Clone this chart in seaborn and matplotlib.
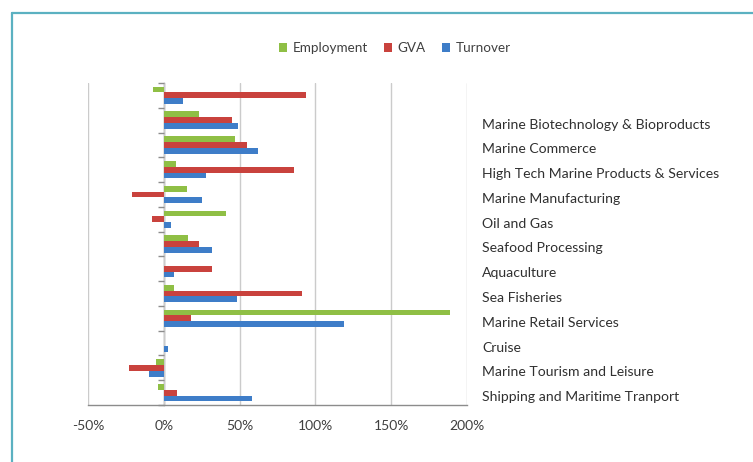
import numpy as np
import pandas as pd
import seaborn as sns
import matplotlib.pyplot as plt
import matplotlib.transforms as mtransforms
from matplotlib.patches import Patch
from matplotlib.lines import Line2D
from matplotlib.ticker import FixedLocator, FuncFormatter

# Sectors, top to bottom (the first group carries no label)
categories = [
    "",
    "Marine Biotechnology & Bioproducts",
    "Marine Commerce",
    "High Tech Marine Products & Services",
    "Marine Manufacturing",
    "Oil and Gas",
    "Seafood Processing",
    "Aquaculture",
    "Sea Fisheries",
    "Marine Retail Services",
    "Cruise",
    "Marine Tourism and Leisure",
    "Shipping and Maritime Tranport",
]
measures = ["Employment", "GVA", "Turnover"]

# Percentage change per sector
employment = [-7, 23, 47, 8, 15, 41, 16, 0, 7, 189, 0, -5, -4]
gva = [94, 45, 55, 86, -21, -8, 23, 31.5, 91, 18, 0, -23, 8.5]
turnover = [12.5, 49, 62, 28, 25.5, 5, 32, 6.5, 48, 119, 3, -10, 58]

x_ticks = [-50, 0, 50, 100, 150, 200]
colors = ["#8FBF45", "#C9423D", "#3E7DC8"]

df = pd.DataFrame({
    "Sector": categories * 3,
    "Measure": np.repeat(measures, len(categories)),
    "Change": employment + gva + turnover,
})

sns.set_theme(style="white")
plt.rcParams["font.family"] = ["Lato", "DejaVu Sans"]

fig = plt.figure(figsize=(7.53, 4.62), dpi=100)
fig.patch.set_facecolor("white")
W, H = 753, 462
ax = fig.add_axes([88 / W, 1 - 405 / H, (467 - 88) / W, (405 - 83) / H])

sns.barplot(
    data=df, y="Sector", x="Change", hue="Measure",
    order=categories, hue_order=measures, palette=colors,
    orient="h", width=0.7, saturation=1, legend=False, linewidth=0, ax=ax,
)

ax.set_xlim(-50, 200)
ax.set_ylim(len(categories) - 0.5, -0.5)
ax.set_xlabel("")
ax.set_ylabel("")

# vertical gridlines
ax.set_xticks(x_ticks)
ax.xaxis.set_major_formatter(FuncFormatter(lambda v, p: f"{v:.0f}%"))
ax.grid(axis="x", color="#CBCBCB", lw=1)
ax.grid(axis="y", visible=False)
ax.set_axisbelow(True)

for s in ["top", "right"]:
    ax.spines[s].set_visible(False)
ax.spines["bottom"].set_color("#8C8C8C")
ax.spines["bottom"].set_linewidth(1)
ax.spines["left"].set_position(("data", 0))
ax.spines["left"].set_color("#8C8C8C")
ax.spines["left"].set_linewidth(1)
ax.spines["left"].set_zorder(0.5)

ax.tick_params(axis="x", length=5, width=1, color="#8C8C8C", direction="out",
               labelsize=10, labelcolor="#404040", pad=5.5)

# sector names on the right, category separators on the zero axis
ax.set_yticks(range(len(categories)))
ax.set_yticklabels(categories)
ax.yaxis.set_minor_locator(FixedLocator(np.arange(-0.5, len(categories), 1)))
ax.tick_params(axis="y", which="major", left=False, right=False,
               labelleft=False, labelright=True, pad=4.8,
               labelsize=10.1, labelcolor="#303030")
ax.tick_params(axis="y", which="minor", left=True, right=False, length=4,
               width=1, color="#8C8C8C", direction="out")
shift = mtransforms.ScaledTranslation(0, -2.5 / 72, fig.dpi_scale_trans)
for lbl in ax.get_yticklabels(which="major"):
    lbl.set_transform(lbl.get_transform() + shift)

handles = [Patch(facecolor=c, edgecolor="none") for c in colors]
fig.legend(handles, measures, loc="center", bbox_to_anchor=(395 / W, 1 - 48 / H),
           ncol=3, frameon=False, handlelength=0.6, handleheight=0.6,
           handletextpad=0.4, columnspacing=1.2, fontsize=9.7,
           labelcolor="#404040")

# teal frame along the top and left
frame_c = "#5BB1C1"
fig.add_artist(Line2D([12 / W, 1], [1 - 13 / H, 1 - 13 / H], color=frame_c,
                      lw=1.6, transform=fig.transFigure))
fig.add_artist(Line2D([12 / W, 12 / W], [0, 1 - 13 / H], color=frame_c,
                      lw=1.6, transform=fig.transFigure))

fig.savefig("out.png", dpi=100)
